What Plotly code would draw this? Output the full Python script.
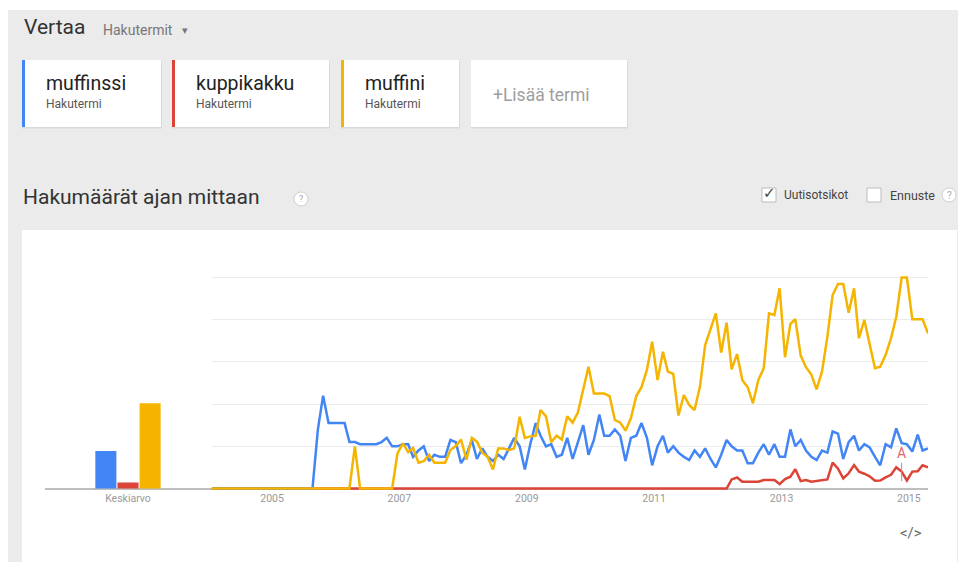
import plotly.graph_objects as go
import pandas as pd

W, H = 960, 562

# ---------------- data ----------------
months = pd.date_range("2004-01-01", periods=136, freq="MS")

muffinssi = [0]*20 + [
    28, 44, 31, 31, 31, 31, 22, 22, 21, 21,      # i20-29
    21, 21, 22, 24, 20, 20, 21, 21, 15, 18,      # i30-39
    20, 13, 16, 15, 15, 23, 22, 12, 16, 23,      # i40-49
    14, 19, 15, 13, 16, 14, 19, 24, 20, 9,       # i50-59
    21, 31, 25, 20, 21, 15, 16, 24, 14, 22,      # i60-69
    30, 16, 23, 35, 25, 25, 28, 25, 13, 24,      # i70-79
    25, 31, 24, 11, 20, 25, 17, 20, 17, 15,      # i80-89
    13.5, 18, 15, 19, 14, 10, 16, 23, 20, 18,    # i90-99
    18, 12, 12, 17, 21, 16, 21, 15, 15, 28,      # i100-109
    20, 23, 18, 15, 13.5, 18, 17, 27, 26, 14,    # i110-119
    22, 25, 18, 21, 19.5, 15, 11, 21, 19.5, 28.5,  # i120-129
    21.5, 21, 17.5, 25.5, 18, 19,                # i130-135
]

kuppikakku = [0]*98 + [
    4.3, 5.2, 3.2, 3.2, 3.2, 3.2, 4, 4, 4, 2.1,   # i98-107
    4.5, 5.6, 9.1, 3.5, 4, 3.2, 3.5, 4, 4.3, 12.3,  # i108-117
    9.4, 4.8, 7.2, 11.1, 8, 7, 5.8, 3.7, 3.8, 5.3,  # i118-127
    6.5, 10, 8, 3.8, 8, 8.2, 11, 10,              # i128-135
]

muffini = [0]*27 + [20] + [0]*7 + [
    16.5, 21.4, 17.2, 19.2, 12.2,                # i35-39
    13, 16, 12.2, 12.2, 12.2, 18.2, 20.1, 23.2, 13.6, 24,   # i40-49
    22.2, 17, 15, 9, 19, 19, 18.2, 19, 34, 24,    # i50-59
    24.7, 25, 37.2, 34.2, 22, 25, 23.2, 34.2, 31.2, 36,     # i60-69
    47, 57.7, 45, 45, 45, 43.8, 32.5, 31.2, 27.4, 33.3,     # i70-79
    43.8, 48, 56.2, 69.6, 51.4, 64.8, 55.4, 54.3, 34.6, 44.3,  # i80-89
    39.6, 37.2, 48.2, 68, 75.1, 83, 64.4, 78.6, 56.5, 63.7,    # i90-99
    51.4, 48, 40.4, 51.4, 57, 83, 82.2, 94.9, 62.2, 78,        # i100-109
    80.2, 63, 57.5, 54, 47, 55.4, 72, 91.7, 96.9, 96.9,        # i110-119
    83.3, 94.9, 71.2, 79.9, 68.5, 57, 57.7, 63.3, 71.2, 81.4,  # i120-129
    100, 100, 80.2, 80.2, 80.2, 73.5,                          # i130-135
]

averages = {"muffinssi": 17.8, "kuppikakku": 2.9, "muffini": 40.4}
avg_category = "Keskiarvo"

tick_years = [2005, 2007, 2009, 2011, 2013, 2015]
tick_labels = [str(y) for y in tick_years]

news_index = 130
news_label = "A"

COLORS = {"muffinssi": "#4285f4", "kuppikakku": "#db4437", "muffini": "#f4b400"}

# ---------------- geometry helpers ----------------
def px(x):
    return x / W

def py(y):
    return (H - y) / H

FONT = "Roboto, Arial, sans-serif"

# y scale: value 0 at 488.5px, 100 at 277.5px
Y0, Y100 = 488.5, 277.5
unit = (Y0 - Y100) / 100.0
yr = [-1, 104]
ydom = [py(Y0 - yr[0] * unit), py(Y0 - yr[1] * unit)]

fig = go.Figure()

# bars (average)
for name in ["muffinssi", "kuppikakku", "muffini"]:
    fig.add_trace(go.Bar(
        x=[avg_category], y=[averages[name]], name=name,
        marker=dict(color=COLORS[name], line=dict(color=COLORS[name], width=0)),
        xaxis="x", yaxis="y", showlegend=False, hoverinfo="skip",
    ))

# lines
for name, vals in [("kuppikakku", kuppikakku), ("muffinssi", muffinssi), ("muffini", muffini)]:
    fig.add_trace(go.Scatter(
        x=months, y=vals, mode="lines", name=name,
        line=dict(color=COLORS[name], width=2.5),
        xaxis="x2", yaxis="y2", showlegend=False, hoverinfo="skip",
    ))

tickvals = [pd.Timestamp(f"{y-1}-12-12") for y in tick_years]

fig.update_layout(
    width=W, height=H,
    margin=dict(l=0, r=0, t=0, b=0),
    paper_bgcolor="white",
    plot_bgcolor="rgba(0,0,0,0)",
    barmode="group", bargap=0.6, bargroupgap=0.05,
    font=dict(family=FONT),
    xaxis=dict(domain=[px(45), px(211)], type="category", showgrid=False,
               showline=False, zeroline=False, ticks="",
               tickfont=dict(size=10.5, color="#999", family=FONT), anchor="y",
               fixedrange=True),
    yaxis=dict(domain=ydom, range=yr, visible=False, showgrid=False,
               zeroline=False, anchor="x"),
    xaxis2=dict(domain=[px(211.7), px(928)], type="date",
                range=[months[0], months[-1]], showgrid=False, showline=False,
                zeroline=False, ticks="", tickvals=tickvals, ticktext=tick_labels,
                tickfont=dict(size=10.5, color="#999", family=FONT), anchor="y2"),
    yaxis2=dict(domain=ydom, range=yr, showgrid=True, gridcolor="#ebebeb",
                gridwidth=1, tickvals=[20, 40, 60, 80, 100],
                showticklabels=False, zeroline=False, showline=False,
                ticks="", anchor="x2"),
)

shapes = []
# grey page background
shapes.append(dict(type="rect", xref="paper", yref="paper", layer="below",
                   x0=px(8), x1=px(958), y0=py(562), y1=py(10),
                   fillcolor="#ebebeb", line=dict(width=0)))
# term cards
cards = [(22, 161, "muffinssi"), (172, 329, "kuppikakku"), (341, 459, "muffini"), (471, 627, None)]
for x0, x1, name in cards:
    shapes.append(dict(type="rect", xref="paper", yref="paper", layer="below",
                       x0=px(x0), x1=px(x1 + 1), y0=py(128.5), y1=py(61),
                       fillcolor="#d9d9d9", line=dict(width=0)))
    shapes.append(dict(type="rect", xref="paper", yref="paper", layer="below",
                       x0=px(x0), x1=px(x1), y0=py(127), y1=py(60),
                       fillcolor="white", line=dict(width=0)))
    if name:
        shapes.append(dict(type="rect", xref="paper", yref="paper", layer="below",
                           x0=px(x0), x1=px(x0 + 3), y0=py(127), y1=py(60),
                           fillcolor=COLORS[name], line=dict(width=0)))
# chart panel
shapes.append(dict(type="rect", xref="paper", yref="paper", layer="below",
                   x0=px(22), x1=px(957), y0=py(562), y1=py(230),
                   fillcolor="white", line=dict(width=0)))
# baseline
shapes.append(dict(type="line", xref="paper", yref="paper", layer="below",
                   x0=px(45), x1=px(928), y0=py(Y0 + 0.5), y1=py(Y0 + 0.5),
                   line=dict(color="#a8a8a8", width=1.5)))
# help circles
for cx, cy in [(301, 199), (949, 195)]:
    shapes.append(dict(type="circle", xref="paper", yref="paper",
                       x0=px(cx - 7), x1=px(cx + 7), y0=py(cy + 7), y1=py(cy - 7),
                       fillcolor="white", line=dict(color="#cfcfcf", width=1)))
# checkboxes
for bx in [762, 867]:
    shapes.append(dict(type="rect", xref="paper", yref="paper",
                       x0=px(bx), x1=px(bx + 14), y0=py(202), y1=py(188),
                       fillcolor="white", line=dict(color="#bdbdbd", width=1)))
fig.update_layout(shapes=shapes)

ann = []
def text(x, y, s, size, color, xanchor="left", family=FONT):
    ann.append(dict(xref="paper", yref="paper", x=px(x), y=py(y), text=s,
                    showarrow=False, xanchor=xanchor, yanchor="middle",
                    font=dict(size=size, color=color, family=family)))

text(22, 27, "Vertaa", 21, "#333333")
text(101, 30, "Hakutermit", 14, "#777777")
text(180, 31, "▾", 11, "#777777")
for (x0, x1, name) in cards[:3]:
    text(x0 + 22, 84, name, 19.5, "#222222")
    text(x0 + 22, 104, "Hakutermi", 12, "#555555")
text(491, 95, "+Lisää termi", 17.5, "#9e9e9e")
text(21, 197, "Hakumäärät ajan mittaan", 21, "#333333")
text(301, 199, "?", 9, "#aaaaaa", xanchor="center")
text(769, 193, "✓", 15, "#444444", xanchor="center", family="DejaVu Sans")
text(782, 195, "Uutisotsikot", 12, "#444444")
text(888, 195, "Ennuste", 12.5, "#444444")
text(949, 195, "?", 10, "#aaaaaa", xanchor="center")
text(911, 533, "&lt;/&gt;", 15, "#666666", xanchor="center")

ann.append(dict(xref="x2", yref="y2", x=months[news_index], y=3.5,
                text=news_label, showarrow=True, ax=0, ay=-28,
                arrowhead=0, arrowwidth=1, arrowcolor="#999999", standoff=0,
                font=dict(size=14, color="#e06666", family=FONT)))
fig.update_layout(annotations=ann)

fig.write_html("out.html", config={"displayModeBar": False})

# remove the default page margin so the figure sits at the window origin
with open("out.html", "r", encoding="utf-8") as f:
    html = f.read()
html = html.replace("<head>", "<head><style>html,body{margin:0;padding:0;overflow:hidden;}</style>", 1)
with open("out.html", "w", encoding="utf-8") as f:
    f.write(html)
